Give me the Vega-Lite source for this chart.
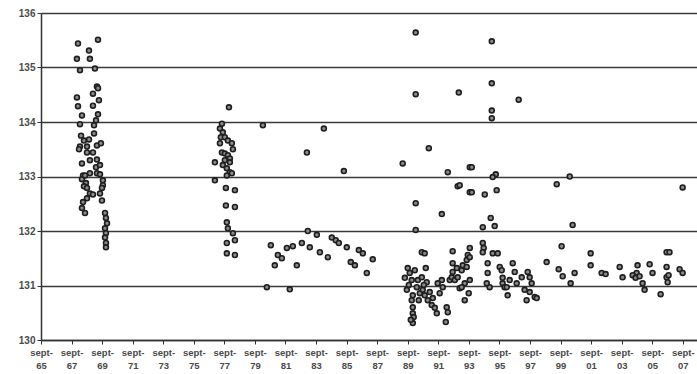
{
  "$schema": "https://vega.github.io/schema/vega-lite/v6.json",
  "width": 656,
  "height": 327,
  "autosize": "none",
  "padding": {"left": 41, "top": 13, "right": 0, "bottom": 34},
  "background": "white",
  "config": {"view": {"stroke": null}},
  "data": {"values": [
    {"t":1968.09,"v":135.44},{"t":1969.40,"v":135.51},{"t":1968.81,"v":135.31},{"t":1968.02,"v":135.16},{"t":1968.87,"v":135.16},
    {"t":1968.22,"v":134.95},{"t":1969.20,"v":134.98},{"t":1969.33,"v":134.65},{"t":1969.40,"v":134.62},{"t":1968.02,"v":134.45},
    {"t":1969.07,"v":134.52},{"t":1968.09,"v":134.29},{"t":1969.07,"v":134.30},{"t":1969.46,"v":134.40},{"t":1969.40,"v":134.14},
    {"t":1968.35,"v":134.12},{"t":1968.22,"v":133.96},{"t":1969.14,"v":133.94},{"t":1968.29,"v":133.75},{"t":1968.81,"v":133.68},
    {"t":1969.14,"v":133.79},{"t":1968.22,"v":133.55},{"t":1968.68,"v":133.55},{"t":1969.33,"v":133.57},{"t":1969.59,"v":133.61},
    {"t":1968.68,"v":133.44},{"t":1969.07,"v":133.44},{"t":1968.35,"v":133.24},{"t":1969.33,"v":133.31},{"t":1969.27,"v":133.17},
    {"t":1968.42,"v":133.02},{"t":1968.87,"v":133.06},{"t":1969.33,"v":133.06},{"t":1969.53,"v":133.04},{"t":1968.35,"v":132.95},
    {"t":1968.61,"v":132.88},{"t":1969.72,"v":132.93},{"t":1969.72,"v":132.84},{"t":1968.48,"v":132.82},{"t":1968.68,"v":132.79},
    {"t":1968.87,"v":132.69},{"t":1969.07,"v":132.67},{"t":1968.42,"v":132.53},{"t":1968.68,"v":132.60},{"t":1968.35,"v":132.42},
    {"t":1968.55,"v":132.33},{"t":1969.53,"v":132.69},{"t":1969.66,"v":132.56},{"t":1969.66,"v":132.79},{"t":1969.86,"v":132.33},
    {"t":1969.92,"v":132.24},{"t":1969.99,"v":132.14},{"t":1969.86,"v":132.05},{"t":1969.92,"v":131.96},{"t":1969.86,"v":131.88},
    {"t":1969.92,"v":131.78},{"t":1969.92,"v":131.70},{"t":1968.55,"v":133.02},{"t":1968.48,"v":133.66},{"t":1968.87,"v":133.30},
    {"t":1969.53,"v":133.21},{"t":1968.16,"v":133.50},{"t":1969.27,"v":134.03},
    {"t":1977.97,"v":134.27},{"t":1977.51,"v":133.97},{"t":1977.38,"v":133.88},{"t":1977.57,"v":133.81},{"t":1977.44,"v":133.72},
    {"t":1977.70,"v":133.72},{"t":1977.90,"v":133.66},{"t":1977.38,"v":133.61},{"t":1978.16,"v":133.61},{"t":1978.23,"v":133.50},
    {"t":1977.51,"v":133.44},{"t":1977.70,"v":133.42},{"t":1977.90,"v":133.39},{"t":1977.05,"v":133.26},{"t":1977.70,"v":133.30},
    {"t":1978.03,"v":133.33},{"t":1977.57,"v":133.21},{"t":1978.03,"v":133.26},{"t":1977.83,"v":133.15},{"t":1978.03,"v":133.08},
    {"t":1977.83,"v":133.02},{"t":1978.16,"v":133.06},{"t":1977.05,"v":132.93},{"t":1977.77,"v":132.79},{"t":1978.36,"v":132.75},
    {"t":1977.77,"v":132.47},{"t":1978.36,"v":132.44},{"t":1977.83,"v":132.16},{"t":1977.90,"v":132.05},{"t":1978.23,"v":131.96},
    {"t":1978.36,"v":131.83},{"t":1977.83,"v":131.78},{"t":1977.83,"v":131.59},{"t":1978.36,"v":131.56},
    {"t":1980.19,"v":133.94},{"t":1984.18,"v":133.88},{"t":1983.07,"v":133.44},{"t":1985.49,"v":133.10},{"t":1983.13,"v":132.00},
    {"t":1983.72,"v":131.93},{"t":1980.71,"v":131.74},{"t":1981.76,"v":131.69},{"t":1982.15,"v":131.72},{"t":1982.74,"v":131.78},
    {"t":1983.26,"v":131.70},{"t":1984.70,"v":131.88},{"t":1984.96,"v":131.83},{"t":1985.16,"v":131.78},{"t":1985.68,"v":131.70},
    {"t":1986.47,"v":131.65},{"t":1986.73,"v":131.59},{"t":1981.17,"v":131.56},{"t":1981.43,"v":131.50},{"t":1983.92,"v":131.61},
    {"t":1984.44,"v":131.52},{"t":1987.38,"v":131.48},{"t":1985.94,"v":131.43},{"t":1986.21,"v":131.37},{"t":1980.97,"v":131.37},
    {"t":1982.41,"v":131.37},{"t":1986.99,"v":131.23},{"t":1980.45,"v":130.97},{"t":1981.95,"v":130.93},
    {"t":1990.19,"v":135.64},{"t":1990.19,"v":134.51},{"t":1993.01,"v":134.54},{"t":1991.05,"v":133.52},{"t":1989.34,"v":133.24},
    {"t":1992.29,"v":133.08},{"t":1992.94,"v":132.82},{"t":1993.73,"v":132.71},{"t":1993.73,"v":133.17},{"t":1990.19,"v":132.51},
    {"t":1991.90,"v":132.31},{"t":1990.19,"v":132.02},{"t":1990.59,"v":131.61},{"t":1990.78,"v":131.59},{"t":1990.85,"v":131.32},
    {"t":1992.61,"v":131.63},{"t":1992.61,"v":131.41},
    {"t":1995.17,"v":135.48},{"t":1995.17,"v":134.71},{"t":1996.93,"v":134.41},{"t":1995.17,"v":134.21},{"t":1995.17,"v":134.07},
    {"t":1993.86,"v":133.17},{"t":1995.43,"v":133.04},{"t":1995.23,"v":132.99},{"t":1993.07,"v":132.84},{"t":1993.86,"v":132.71},
    {"t":1994.71,"v":132.67},{"t":1995.49,"v":132.75},{"t":1995.10,"v":132.24},{"t":1994.58,"v":132.07},{"t":1995.36,"v":132.09},
    {"t":1989.67,"v":131.32},{"t":1989.80,"v":131.23},{"t":1989.48,"v":131.14},{"t":1989.61,"v":130.92},{"t":1989.93,"v":131.10},
    {"t":1990.00,"v":130.82},{"t":1989.93,"v":130.73},{"t":1990.00,"v":130.60},{"t":1990.00,"v":130.49},{"t":1990.06,"v":130.42},
    {"t":1990.00,"v":130.31},{"t":1990.26,"v":130.97},{"t":1990.33,"v":131.10},{"t":1990.46,"v":130.86},{"t":1990.59,"v":131.15},
    {"t":1990.65,"v":130.92},{"t":1990.78,"v":130.82},{"t":1990.91,"v":131.06},{"t":1990.98,"v":130.73},{"t":1991.11,"v":130.88},
    {"t":1991.24,"v":130.64},{"t":1991.31,"v":130.77},{"t":1991.44,"v":130.59},{"t":1991.57,"v":130.49},{"t":1991.63,"v":131.04},
    {"t":1991.76,"v":130.86},{"t":1991.90,"v":131.10},{"t":1991.96,"v":130.97},{"t":1992.22,"v":130.60},{"t":1992.29,"v":130.51},
    {"t":1992.16,"v":130.33},{"t":1992.42,"v":131.10},{"t":1992.55,"v":131.15},{"t":1992.61,"v":131.25},{"t":1992.75,"v":131.10},
    {"t":1992.88,"v":131.32},{"t":1992.94,"v":131.15},{"t":1993.07,"v":130.95},{"t":1993.20,"v":131.28},{"t":1993.27,"v":131.37},
    {"t":1993.53,"v":131.34},{"t":1993.53,"v":131.47},{"t":1993.60,"v":131.56},{"t":1993.66,"v":130.86},{"t":1993.40,"v":131.04},
    {"t":1993.73,"v":131.10},{"t":1993.73,"v":131.69},{"t":1993.73,"v":131.52},{"t":1993.40,"v":130.73},{"t":1993.20,"v":130.97},
    {"t":1989.74,"v":131.01},{"t":1990.13,"v":131.28},{"t":1990.39,"v":130.73},{"t":1989.87,"v":130.37},{"t":1990.72,"v":131.01},
    {"t":1994.58,"v":131.78},{"t":1994.64,"v":131.69},{"t":1994.58,"v":131.61},{"t":1995.23,"v":131.59},{"t":1995.56,"v":131.59},
    {"t":1994.90,"v":131.41},{"t":1994.90,"v":131.23},{"t":1995.03,"v":130.97},{"t":1994.84,"v":131.04},{"t":1995.69,"v":131.34},
    {"t":1995.82,"v":131.28},{"t":1995.88,"v":131.14},{"t":1995.88,"v":131.04},{"t":1996.01,"v":130.97},{"t":1996.21,"v":130.82},
    {"t":1996.15,"v":130.97},{"t":1996.34,"v":131.10},{"t":1996.54,"v":131.41},{"t":1996.67,"v":131.25},{"t":1996.80,"v":131.04},
    {"t":1997.13,"v":131.15},{"t":1997.32,"v":130.92},{"t":1997.45,"v":130.73},{"t":1997.52,"v":131.25},{"t":1997.65,"v":131.15},
    {"t":1997.78,"v":131.04},{"t":1997.65,"v":130.88},{"t":1997.98,"v":130.79},{"t":1998.11,"v":130.77},{"t":1998.76,"v":131.43},
    {"t":1999.42,"v":132.86},{"t":2000.27,"v":133.00},{"t":2007.66,"v":132.80},{"t":2000.46,"v":132.11},{"t":1999.74,"v":131.72},
    {"t":2001.64,"v":131.59},{"t":2001.64,"v":131.37},{"t":2006.61,"v":131.61},{"t":2006.80,"v":131.61},{"t":1999.55,"v":131.30},
    {"t":1999.81,"v":131.17},{"t":2000.59,"v":131.23},{"t":2000.33,"v":131.04},{"t":2002.36,"v":131.23},{"t":2002.62,"v":131.21},
    {"t":2003.54,"v":131.34},{"t":2003.73,"v":131.15},{"t":2004.71,"v":131.37},{"t":2004.65,"v":131.23},{"t":2004.39,"v":131.19},
    {"t":2004.58,"v":131.14},{"t":2004.84,"v":131.17},{"t":2005.04,"v":131.04},{"t":2005.17,"v":130.92},{"t":2005.50,"v":131.39},
    {"t":2005.69,"v":131.23},{"t":2006.22,"v":130.84},{"t":2006.61,"v":131.34},{"t":2006.61,"v":131.15},{"t":2006.74,"v":131.19},
    {"t":2006.68,"v":131.06},{"t":2007.46,"v":131.30},{"t":2007.66,"v":131.23}
  ]},
  "mark": {"type": "point", "shape": "circle", "filled": true, "size": 24, "fill": "#8c8c8c", "stroke": "#1e1e1e", "strokeWidth": 1.6, "opacity": 1, "clip": false},
  "encoding": {
    "x": {
      "field": "t", "type": "quantitative",
      "scale": {"domain": [1965.67, 2008.6], "nice": false, "zero": false},
      "axis": {
        "title": null,
        "values": [1965.67,1967.67,1969.67,1971.67,1973.67,1975.67,1977.67,1979.67,1981.67,1983.67,1985.67,1987.67,1989.67,1991.67,1993.67,1995.67,1997.67,1999.67,2001.67,2003.67,2005.67,2007.67],
        "labelExpr": "['sept-', slice(toString(floor(datum.value)), 2)]",
        "grid": false,
        "domainColor": "#333333", "domainWidth": 1.5,
        "tickColor": "#333333", "tickSize": 4, "tickWidth": 1,
        "labelFont": "Liberation Sans", "labelFontSize": 9.5, "labelFontWeight": "bold", "labelColor": "#4a4a4a",
        "labelLineHeight": 13, "labelPadding": 3, "labelOverlap": false, "labelBound": false, "labelFlush": false
      }
    },
    "y": {
      "field": "v", "type": "quantitative",
      "scale": {"domain": [130, 136], "nice": false, "zero": false},
      "axis": {
        "title": null,
        "values": [130,131,132,133,134,135,136],
        "grid": true, "gridColor": "#3a3a3a", "gridWidth": 1.6,
        "domainColor": "#333333", "domainWidth": 1.5,
        "tickColor": "#333333", "tickSize": 4, "tickWidth": 1,
        "labelFont": "Liberation Sans", "labelFontSize": 10, "labelFontWeight": "bold", "labelColor": "#4a4a4a",
        "labelPadding": 2, "labelOverlap": false, "labelBound": false, "labelFlush": false
      }
    }
  }
}
